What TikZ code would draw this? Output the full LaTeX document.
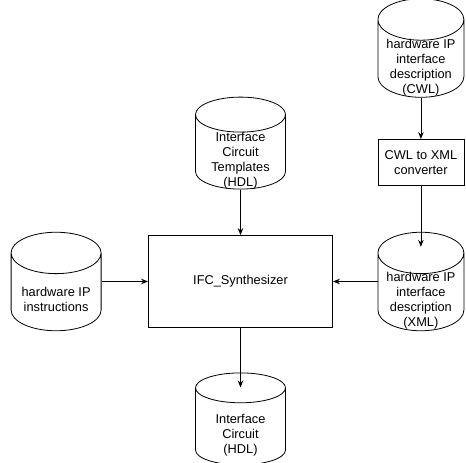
\documentclass[tikz,border=0pt]{standalone}
\usepackage{fontspec}
\setmainfont{Liberation Sans}
\usetikzlibrary{arrows.meta, positioning, shapes.geometric}
\newcommand{\stacked}[1]{\begin{tabular}{@{}c@{}}#1\end{tabular}}
\tikzset{
    box/.style={rectangle, draw=black, fill=white, align=center, inner sep=2pt, line width=0.8pt,
        font=\fontsize{12.8}{15}\selectfont},
    store/.style={cylinder, shape border rotate=90, aspect=0.6, draw=black, fill=white, inner sep=0pt, line width=0.8pt,
        minimum width=90pt, minimum height=92pt, text height=30pt, text depth=6pt, font=\fontsize{12.8}{15}\selectfont},
    arrow/.style={-{Stealth[length=7pt, width=5.5pt]}, line width=0.8pt, draw=black},
    into/.style={shorten >=-15pt}
}
\begin{document}
\begin{tikzpicture}[x=1pt, y=1pt, node distance=46pt]
    \useasboundingbox (0,0) rectangle (466,-463);
    \node[box, minimum width=184pt, minimum height=92pt] (synth) at (240.5,-281.5) {IFC\_Synthesizer};
    \node[store, left=92pt of synth.west, anchor=shape center] (instr) {\stacked{hardware IP\\instructions}};
    \node[store, above=92pt of synth.north, anchor=shape center] (templ) {\stacked{Interface\\Circuit\\Templates\\(HDL)}};
    \node[store, below=91pt of synth.south, anchor=shape center] (circuit) {\stacked{Interface\\Circuit\\(HDL)}};
    \node[store, right=88pt of synth.east, anchor=shape center, minimum width=86pt] (xmldesc) {\stacked{hardware IP\\interface\\description\\(XML)}};
    \node[box, above=of xmldesc.top, minimum width=86pt, minimum height=46pt] (conv) {CWL to XML\\converter};
    \node[store, above=91pt of conv.north, anchor=shape center, minimum width=86pt, minimum height=96pt] (cwldesc) {\stacked{hardware IP\\interface\\description\\(CWL)}};
    % connectors
    \draw[arrow] (instr.east |- synth) -- (synth);
    \draw[arrow] (templ.bottom) -- (synth);
    \draw[arrow] (xmldesc.west |- synth) -- (synth);
    \draw[arrow, into] (synth) -- (circuit.top);
    \draw[arrow] (cwldesc.bottom) -- (conv);
    \draw[arrow, into] (conv.south) -- (conv.south |- xmldesc.top);
\end{tikzpicture}
\end{document}
